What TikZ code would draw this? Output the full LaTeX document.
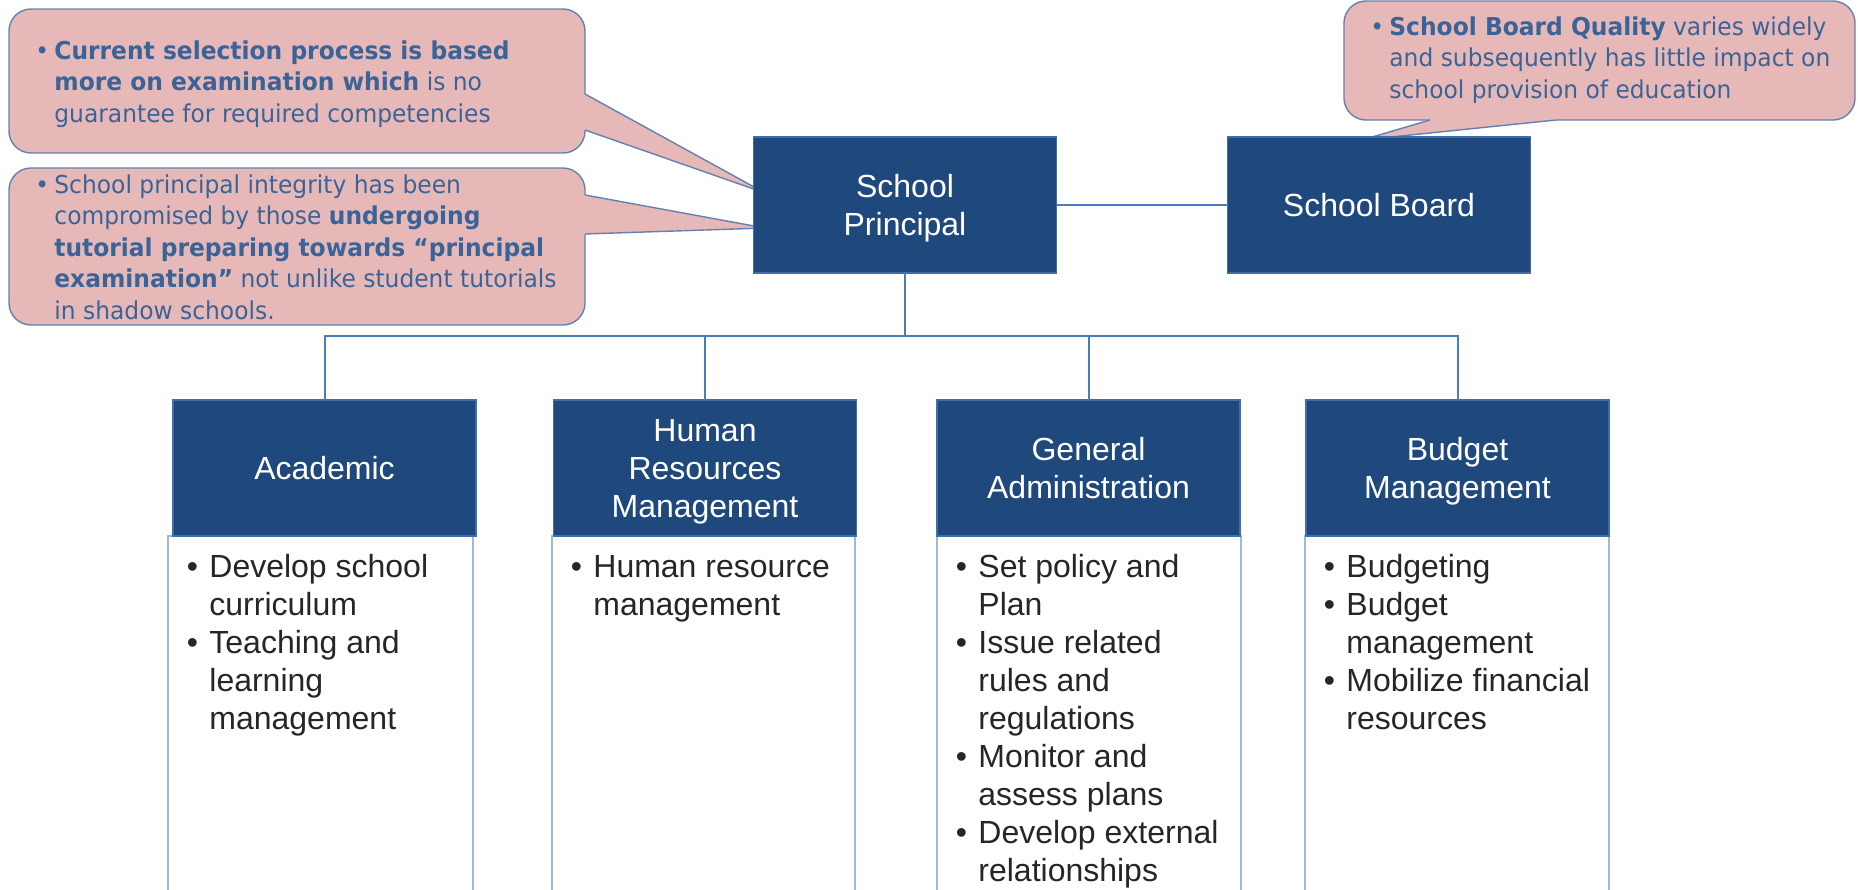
\documentclass[tikz,border=0pt]{standalone}
\usepackage{fontspec}
\setmainfont{Liberation Sans}
\newfontfamily\notefont[FakeStretch=0.95]{DejaVu Sans}

\definecolor{darkblue}{HTML}{1F497D}
\definecolor{hdredge}{HTML}{3F6FAA}
\definecolor{linecol}{HTML}{4A7EBB}
\definecolor{bodyedge}{HTML}{9DB9DC}
\definecolor{callfill}{HTML}{E6B9B8}
\definecolor{calledge}{HTML}{6381B0}
\definecolor{noteink}{HTML}{3A6398}
\definecolor{bodyink}{HTML}{262626}

\newcommand\bodybul{\makebox[11.25pt][l]{\textbullet}}
\newcommand\notebul{\makebox[9.5pt][l]{\textbullet}}

\tikzset{
  hdr/.style={fill=darkblue, draw=hdredge, line width=0.6pt, text=white,
    font=\fontsize{16}{19}\selectfont, align=center, text depth=0pt,
    minimum width=151.5pt, minimum height=68pt, inner sep=0pt, outer sep=0pt},
  bodybox/.style={fill=white, draw=bodyedge, line width=0.75pt},
  conn/.style={draw=linecol, line width=1pt},
  callout/.style={fill=callfill, draw=calledge, line width=0.7pt},
  bodytext/.style={anchor=base west, inner sep=0pt, text=bodyink,
    font=\fontsize{16}{19}\selectfont},
  notetext/.style={anchor=base west, inner sep=0pt, text=noteink,
    font=\notefont\fontsize{12.3}{15.8}\selectfont},
}

\begin{document}
\begin{tikzpicture}[x=0.5pt, y=-0.5pt]
\useasboundingbox (0,0) rectangle (1858,889);
\clip (0,0) rectangle (1858,889);

% ---- callouts: rounded body, then the pointer drawn over its edge
\draw[callout, rounded corners=11pt] (9,9) rectangle (585,153);
\fill[callfill] (580,94) -- (585,94) -- (765,193) -- (585,130) -- (580,130) -- cycle;
\draw[calledge, line width=0.7pt] (585,94) -- (765,193) -- (585,130);

\draw[callout, rounded corners=11pt] (9,168) rectangle (585,325);
\fill[callfill] (580,195) -- (585,195) -- (765,228) -- (585,234) -- (580,234) -- cycle;
\draw[calledge, line width=0.7pt] (585,195) -- (765,228) -- (585,234);

\draw[callout, rounded corners=11pt] (1344,1) rectangle (1855,120);
\fill[callfill] (1430,115) -- (1430,120) -- (1362,140) -- (1556,120) -- (1556,115) -- cycle;
\draw[calledge, line width=0.7pt] (1430,120) -- (1362,140) -- (1556,120);

\node[notetext] (n1) at (35,59) {\begin{tabular}[t]{@{}l@{}l@{}}
\notebul & \textbf{Current selection process is based}\\
 & \textbf{more on examination which} is no\\
 & guarantee for required competencies
\end{tabular}};

\node[notetext] (n2) at (35,193) {\begin{tabular}[t]{@{}l@{}l@{}}
\notebul & School principal integrity has been\\
 & compromised by those \textbf{undergoing}\\
 & \textbf{tutorial preparing towards “principal}\\
 & \textbf{examination”} not unlike student tutorials\\
 & in shadow schools.
\end{tabular}};

\node[notetext] (n3) at (1370,35) {\begin{tabular}[t]{@{}l@{}l@{}}
\notebul & \textbf{School Board Quality} varies widely\\
 & and subsequently has little impact on\\
 & school provision of education
\end{tabular}};

% ---- top level boxes
\node[hdr] (sp) at (905,205) {School\\Principal};
\node[hdr] (sb) at (1379,205) {School Board};

% ---- task bodies (open at the bottom)
\draw[bodybox] (168,536) rectangle (473,900);
\draw[bodybox] (552,536) rectangle (855,900);
\draw[bodybox] (937,536) rectangle (1241,900);
\draw[bodybox] (1305,536) rectangle (1609,900);

% ---- task headers
\node[hdr] (acad) at (324.5,468) {Academic};
\node[hdr] (hr)   at (705,468)   {Human\\Resources\\Management};
\node[hdr] (ga)   at (1088.5,468) {General\\Administration};
\node[hdr] (bm)   at (1457.5,468) {Budget\\Management};

% ---- connectors
\coordinate (bus) at (905,336);
\draw[conn] (sp.east) -- (sb.west);
\draw[conn] (sp.south) -- (bus);
\draw[conn] (acad.north) -- (acad.north |- bus) -- (bm.north |- bus) -- (bm.north);
\draw[conn] (hr.north) -- (hr.north |- bus);
\draw[conn] (ga.north) -- (ga.north |- bus);

% ---- task lists
\node[bodytext] (t1) at (186.5,577) {\begin{tabular}[t]{@{}l@{}l@{}}
\bodybul & Develop school\\
 & curriculum\\
\bodybul & Teaching and\\
 & learning\\
 & management
\end{tabular}};

\node[bodytext] (t2) at (570.5,577) {\begin{tabular}[t]{@{}l@{}l@{}}
\bodybul & Human resource\\
 & management
\end{tabular}};

\node[bodytext] (t3) at (955.5,577) {\begin{tabular}[t]{@{}l@{}l@{}}
\bodybul & Set policy and\\
 & Plan\\
\bodybul & Issue related\\
 & rules and\\
 & regulations\\
\bodybul & Monitor and\\
 & assess plans\\
\bodybul & Develop external\\
 & relationships
\end{tabular}};

\node[bodytext] (t4) at (1323.5,577) {\begin{tabular}[t]{@{}l@{}l@{}}
\bodybul & Budgeting\\
\bodybul & Budget\\
 & management\\
\bodybul & Mobilize financial\\
 & resources
\end{tabular}};
\end{tikzpicture}
\end{document}
